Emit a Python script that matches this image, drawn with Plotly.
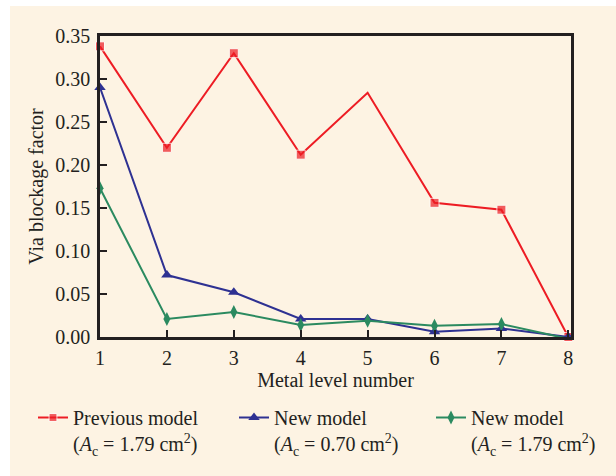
import plotly.graph_objects as go

levels = [1, 2, 3, 4, 5, 6, 7, 8]
previous_model = [0.338, 0.220, 0.330, 0.212, 0.284, 0.156, 0.148, 0.0]
new_model_070 = [0.290, 0.072, 0.052, 0.021, 0.021, 0.006, 0.010, 0.0]
new_model_179 = [0.173, 0.021, 0.029, 0.014, 0.019, 0.013, 0.015, -0.002]
prev_marker_sizes = [9, 9, 9, 9, 0, 9, 9, 9]

names = [
    "Previous model<br>(<i>A</i><sub>c</sub> = 1.79 cm<sup>2</sup>)",
    "New model<br>(<i>A</i><sub>c</sub> = 0.70 cm<sup>2</sup>)",
    "New model<br>(<i>A</i><sub>c</sub> = 1.79 cm<sup>2</sup>)",
]
RED = "#ed1c24"
BLUE = "#2e3192"
GREEN = "#2b8a60"
CREAM = "#fdf3e3"
AXC = "#231f20"
FONT = "Liberation Serif"
FS = 20

fig = go.Figure()
fig.add_trace(go.Scatter(x=levels, y=previous_model, name=names[0], mode="lines+markers",
                         line=dict(color=RED, width=2),
                         marker=dict(symbol="square", size=prev_marker_sizes, color=RED),
                         cliponaxis=False, legend="legend"))
fig.add_trace(go.Scatter(x=levels, y=new_model_070, name=names[1], mode="lines+markers",
                         line=dict(color=BLUE, width=2),
                         marker=dict(symbol="triangle-up", size=10, color=BLUE),
                         cliponaxis=False, legend="legend2"))
fig.add_trace(go.Scatter(x=levels, y=new_model_179, name=names[2], mode="lines+markers",
                         line=dict(color=GREEN, width=2),
                         marker=dict(symbol="diamond-tall", size=10, color=GREEN),
                         cliponaxis=False, legend="legend3"))

L, R, T, B = 100, 45, 36, 139
W, H = 616, 476
pw, ph = W - L - R, H - T - B

fig.add_shape(type="rect", xref="paper", yref="paper",
              x0=(10 - L) / pw, x1=(W - L) / pw + 0.01,
              y0=-(B + 2) / ph, y1=(H - 6 - B) / ph,
              fillcolor=CREAM, line=dict(width=0), layer="below")


def leg(px_left):
    return dict(orientation="v", x=(px_left - L) / pw, xanchor="left",
                y=-(398 - (H - B)) / ph, yanchor="top",
                valign="top", bgcolor="rgba(0,0,0,0)", borderwidth=0,
                font=dict(family=FONT, size=FS, color=AXC))


fig.update_layout(
    width=W, height=H,
    margin=dict(l=L, r=R, t=T, b=B, autoexpand=False),
    paper_bgcolor="white",
    plot_bgcolor=CREAM,
    font=dict(family=FONT, size=FS, color=AXC),
    showlegend=True,
    legend=leg(33),
    legend2=leg(234),
    legend3=leg(431),
    xaxis=dict(range=[1, 8.04], tickvals=levels, ticks="inside", ticklen=7, tickwidth=2,
               tickcolor=AXC, showline=True, linecolor=AXC, linewidth=2.5, mirror=True,
               showgrid=False, zeroline=False, ticklabelstandoff=1,
               tickfont=dict(family=FONT, size=FS, color=AXC),
               title=dict(text="Metal level number", standoff=6,
                          font=dict(family=FONT, size=FS, color=AXC))),
    yaxis=dict(range=[0, 0.35], dtick=0.05, tickformat=".2f", ticks="inside", ticklen=7,
               tickwidth=2, tickcolor=AXC, showline=True, linecolor=AXC, linewidth=2.5,
               mirror=True, showgrid=False, zeroline=False, ticklabelstandoff=3,
               tickfont=dict(family=FONT, size=FS, color=AXC),
               title=dict(text="Via blockage factor", standoff=7,
                          font=dict(family=FONT, size=FS, color=AXC))),
)

fig.write_html("out.html")
